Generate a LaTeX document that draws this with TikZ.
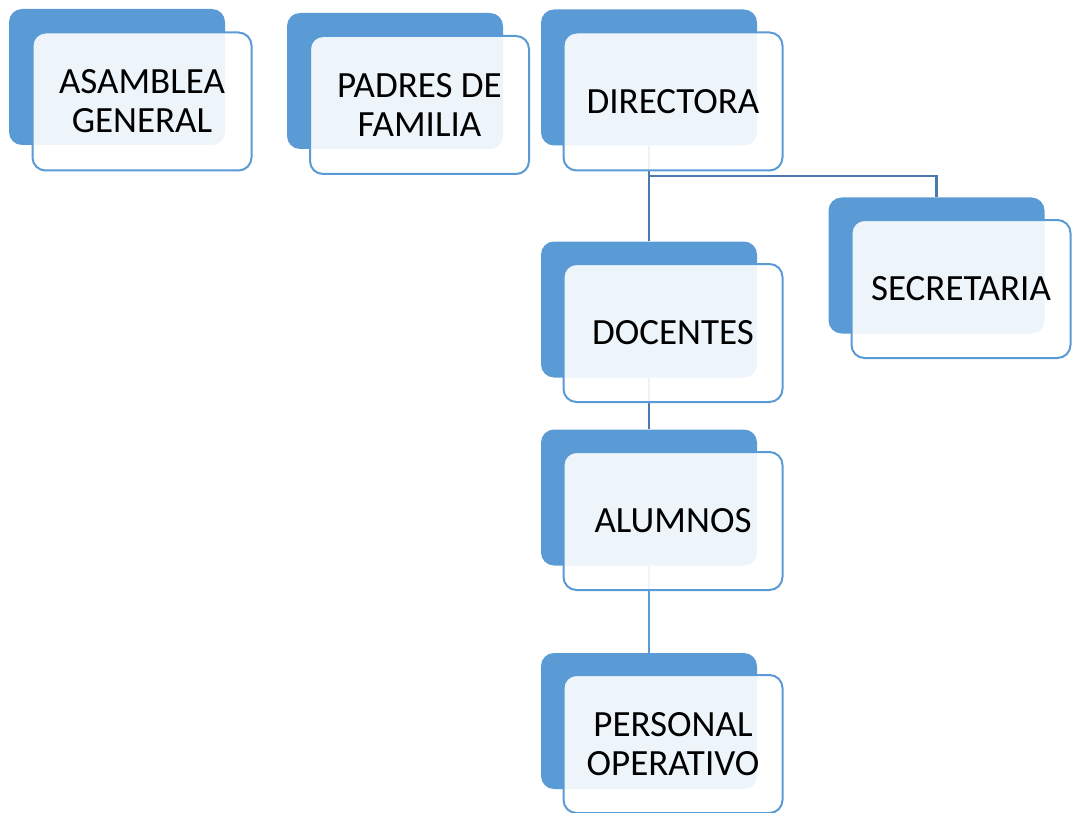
\documentclass[tikz,border=0pt]{standalone}
\usepackage{fontspec}
\setmainfont{Carlito}
\definecolor{boxblue}{HTML}{5B9BD5}
\definecolor{linkblue}{HTML}{4A7BAF}
\begin{document}
\begin{tikzpicture}[x=1pt,y=-1pt,
  back/.style={draw=none,fill=boxblue,rounded corners=13pt,minimum width=216pt,minimum height=136pt,inner sep=0pt},
  front/.style={draw=boxblue,line width=2pt,fill=white,fill opacity=0.9,text opacity=1,rounded corners=13pt,minimum width=219pt,minimum height=138pt,inner sep=0pt,align=center,font=\fontsize{37}{39}\selectfont},
  conn/.style={draw=linkblue,line width=2.3pt},
  connlight/.style={draw=boxblue,line width=2.3pt}]
\useasboundingbox (0,0) rectangle (1073,813);
% back shapes
\node[back] (asaB) at (117,77) {};
\node[back] (padB) at (395,81) {};
\node[back] (dirB) at (649,77.5) {};
\node[back] (secB) at (936.5,265.5) {};
\node[back] (docB) at (649,309.5) {};
\node[back] (aluB) at (649,497.5) {};
\node[back] (perB) at (649,721) {};
% connectors
\coordinate (br) at (649,176);
\draw[conn] (dirB.south) -- (docB.north);
\draw[conn] (br) -| (secB.north);
\draw[conn] (docB.south) -- (aluB.north);
\draw[connlight] (aluB.south) -- (perB.north);
% front shapes
\node[front] (asa) at (142,101.5) {ASAMBLEA\\GENERAL};
\node[front] (pad) at (419.5,105) {PADRES DE\\FAMILIA};
\node[front] (dir) at (673,101.5) {DIRECTORA};
\node[front] (sec) at (961,289) {SECRETARIA};
\node[front] (doc) at (673,333) {DOCENTES};
\node[front] (alu) at (673,521) {ALUMNOS};
\node[front] (per) at (673,744) {PERSONAL\\OPERATIVO};
\end{tikzpicture}
\end{document}
